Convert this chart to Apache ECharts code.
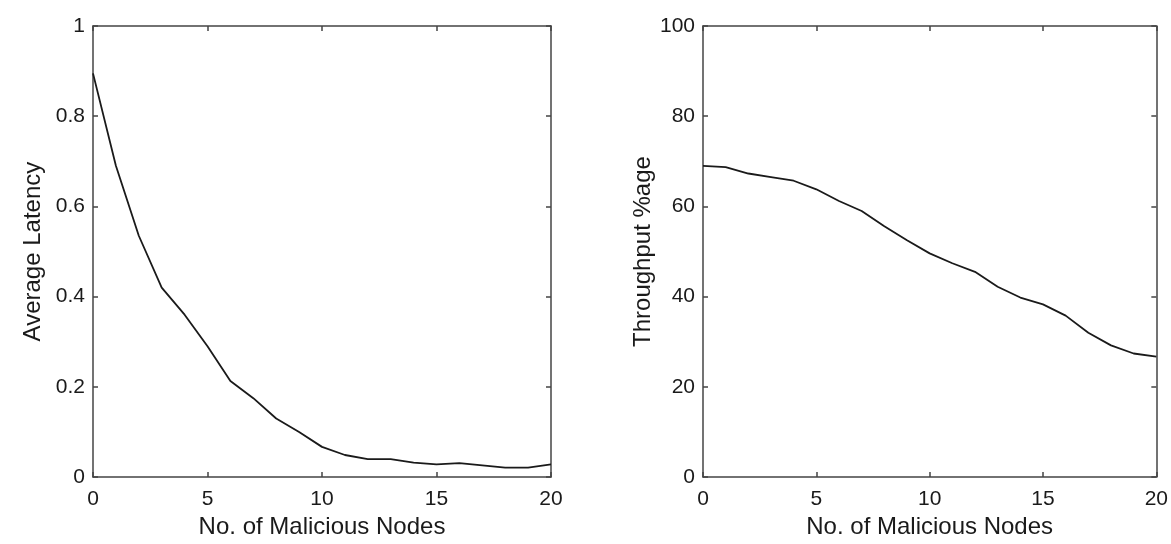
<!DOCTYPE html>
<html>
<head>
<meta charset="utf-8">
<script src="https://cdn.jsdelivr.net/npm/echarts@6/dist/echarts.min.js"></script>
<style>html,body{margin:0;padding:0;background:#fff;}#c{width:1171px;height:544px;}</style>
</head>
<body>
<div id="c"></div>
<script>
// Data
const nodes = [0,1,2,3,4,5,6,7,8,9,10,11,12,13,14,15,16,17,18,19,20];
const latency = [0.895,0.69,0.535,0.42,0.36,0.29,0.213,0.175,0.13,0.10,0.067,0.049,0.040,0.040,0.032,0.028,0.031,0.026,0.021,0.021,0.028];
const throughput = [69.0,68.7,67.3,66.5,65.7,63.8,61.2,59.0,55.6,52.5,49.6,47.4,45.5,42.2,39.8,38.3,35.8,32.0,29.2,27.4,26.7];
const xTicks = [0,5,10,15,20];
const latencyTicks = [0,0.2,0.4,0.6,0.8,1];
const throughputTicks = [0,20,40,60,80,100];

const FONT = 'Liberation Sans';
const axisColor = '#444';
const textColor = '#1a1a1a';
const TICK_FS = 21;
const NAME_FS = 24;

function xAx(grid, pos, showLabel, name) {
  return {
    type: 'value', gridIndex: grid, position: pos,
    min: xTicks[0], max: xTicks[xTicks.length-1], interval: xTicks[1]-xTicks[0],
    axisLine: {show: true, onZero: false, lineStyle: {color: axisColor, width: 1.5}},
    axisTick: {show: true, inside: true, length: 5, lineStyle: {color: axisColor, width: 1.5}},
    axisLabel: {show: showLabel, color: textColor, fontFamily: FONT, fontSize: TICK_FS, margin: 12},
    splitLine: {show: false},
    name: name || '', nameLocation: 'middle', nameGap: 35,
    nameTextStyle: {color: textColor, fontFamily: FONT, fontSize: NAME_FS}
  };
}
function yAx(grid, pos, showLabel, ticks, name, fmt) {
  return {
    type: 'value', gridIndex: grid, position: pos,
    min: ticks[0], max: ticks[ticks.length-1], interval: ticks[1]-ticks[0],
    axisLine: {show: true, onZero: false, lineStyle: {color: axisColor, width: 1.5}},
    axisTick: {show: true, inside: true, length: 5, lineStyle: {color: axisColor, width: 1.5}},
    axisLabel: {show: showLabel, color: textColor, fontFamily: FONT, fontSize: TICK_FS, margin: 8, formatter: fmt},
    splitLine: {show: false},
    name: name || '', nameLocation: 'middle', nameGap: 48, nameRotate: 90,
    nameTextStyle: {color: textColor, fontFamily: FONT, fontSize: NAME_FS}
  };
}
const latFmt = v => (v === 0 || v === 1) ? String(v) : v.toFixed(1);

const chart = echarts.init(document.getElementById('c'), null, {renderer: 'canvas'});
chart.setOption({
  backgroundColor: '#fff',
  animation: false,
  grid: [
    {left: 93, right: 620, top: 26, bottom: 66},
    {left: 703, right: 10, top: 26, bottom: 66}
  ],
  xAxis: [
    xAx(0, 'bottom', true, 'No. of Malicious Nodes'),
    xAx(0, 'top', false),
    xAx(1, 'bottom', true, 'No. of Malicious Nodes'),
    xAx(1, 'top', false)
  ],
  yAxis: [
    yAx(0, 'left', true, latencyTicks, 'Average Latency', latFmt),
    yAx(0, 'right', false, latencyTicks),
    yAx(1, 'left', true, throughputTicks, 'Throughput %age'),
    yAx(1, 'right', false, throughputTicks)
  ],
  series: [
    {type: 'line', xAxisIndex: 0, yAxisIndex: 0, data: nodes.map((x, i) => [x, latency[i]]),
     showSymbol: false, lineStyle: {color: '#1a1a1a', width: 1.8}},
    {type: 'line', xAxisIndex: 2, yAxisIndex: 2, data: nodes.map((x, i) => [x, throughput[i]]),
     showSymbol: false, lineStyle: {color: '#1a1a1a', width: 1.8}}
  ]
});
</script>
</body>
</html>
